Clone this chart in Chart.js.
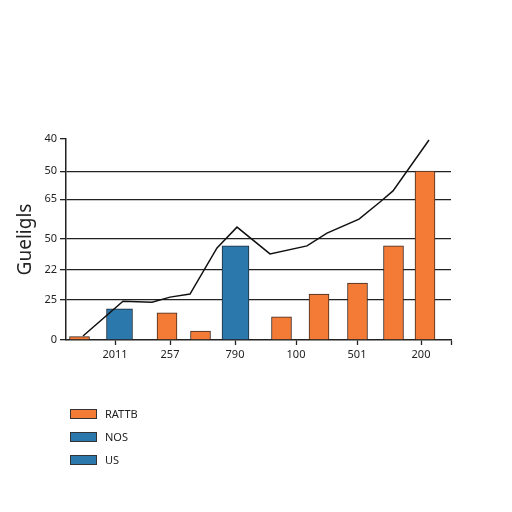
<!DOCTYPE html>
<html>
<head>
<meta charset="utf-8">
<script src="https://cdn.jsdelivr.net/npm/chart.js@4"></script>
<style>
  html, body { margin: 0; padding: 0; background: #fff; }
  #wrap { position: relative; width: 512px; height: 512px; }
  #legend { position: absolute; left: 70px; top: 402px; font-family: 'Noto Sans', sans-serif; font-size: 11px; color: #222; }
  .item { display: flex; align-items: center; height: 23px; }
  .box { width: 25px; height: 8px; margin-right: 8px; border: 1px solid #333; }
</style>
</head>
<body>
<div id="wrap">
  <canvas id="chart" width="512" height="512"></canvas>
  <div id="legend"></div>
</div>
<script>
// x axis ticks (values in axis units) and their printed labels
const xTickValues = [4.9, 10.4, 16.9, 23.0, 29.1, 35.5, 38.5];
const xTickLabels = ['2011', '257', '790', '100', '501', '200', ''];

// y axis ticks, printed labels as they appear on the picture
const yTickValues = [0, 12.1, 20.9, 30.2, 42.0, 50.4, 60];
const yTickLabels = ['0', '25', '22', '50', '65', '50', '40'];

// bars
const rattbX = [1.35, 10.1, 13.45, 21.55, 25.3, 29.15, 32.75, 35.9];
const rattbValues = [1.0, 8.1, 2.7, 6.9, 13.7, 17.0, 28.1, 50.4];
const nosX = [5.35];
const nosValues = [9.3];
const usX = [16.95];
const usValues = [28.1];

// line
const lineX = [1.7, 5.7, 8.6, 10.4, 12.4, 15.1, 17.1, 20.4, 24.1, 26.1, 29.3, 31.4, 32.7, 36.3];
const lineValues = [1.2, 11.6, 11.3, 12.8, 13.7, 27.5, 33.7, 25.7, 28.1, 31.9, 36.1, 41.2, 44.5, 59.7];

const ORANGE = '#F47B35';
const BLUE = '#2B78AD';
const INK = '#222';

const pts = (xs, ys) => xs.map((x, i) => ({x, y: ys[i]}));

const chart = new Chart(document.getElementById('chart'), {
  type: 'bar',
  data: {
    datasets: [
      {
        type: 'line', label: '', data: pts(lineX, lineValues),
        borderColor: '#111', borderWidth: 1.5, pointRadius: 0, tension: 0,
        fill: false, order: 0, inLegend: false
      },
      {
        label: 'RATTB', data: pts(rattbX, rattbValues), backgroundColor: ORANGE,
        borderColor: '#3a2a22', borderWidth: 1, barThickness: 20, grouped: false, order: 1
      },
      {
        label: 'NOS', data: pts(nosX, nosValues), backgroundColor: BLUE,
        borderColor: '#1e2a35', borderWidth: 1, barThickness: 26, grouped: false, order: 1
      },
      {
        label: 'US', data: pts(usX, usValues), backgroundColor: BLUE,
        borderColor: '#1e2a35', borderWidth: 1, barThickness: 27, grouped: false, order: 1
      }
    ]
  },
  options: {
    responsive: false,
    animation: false,
    layout: { padding: { top: 139, left: 10, right: 61, bottom: 142 } },
    plugins: { legend: { display: false }, tooltip: { enabled: false } },
    scales: {
      x: {
        type: 'linear', min: 0, max: 38.5, offset: false,
        afterBuildTicks: s => { s.ticks = xTickValues.map(v => ({value: v})); },
        afterFit: s => { s.height = 30; },
        ticks: {
          autoSkip: false, maxRotation: 0, padding: 3, color: INK,
          font: { family: 'Noto Sans', size: 11 },
          callback: (v, i) => xTickLabels[i]
        },
        grid: {
          offset: false, drawOnChartArea: false, drawTicks: true,
          tickLength: 5, tickColor: INK, tickWidth: 1.3
        },
        border: { color: INK, width: 1.5 }
      },
      y: {
        type: 'linear', min: 0, max: 60,
        afterBuildTicks: s => { s.ticks = yTickValues.map(v => ({value: v})); },
        afterFit: s => { s.width = 56; },
        ticks: {
          autoSkip: false, padding: 3, color: INK,
          font: { family: 'Noto Sans', size: 11 },
          callback: (v, i) => yTickLabels[i]
        },
        grid: {
          color: c => (c.index === 0 || c.index === yTickValues.length - 1) ? 'rgba(0,0,0,0)' : INK,
          lineWidth: 1.3, tickLength: 6, tickColor: INK, tickWidth: 1.3
        },
        border: { color: INK, width: 1.5 },
        title: {
          display: true, text: 'Gueligls', color: INK,
          font: { family: 'Noto Sans', size: 19 }, padding: { top: 4, bottom: 0 }
        }
      }
    }
  }
});

// legend list under the chart, built from the datasets
const legend = document.getElementById('legend');
chart.data.datasets.filter(d => d.inLegend !== false).forEach(d => {
  const row = document.createElement('div');
  row.className = 'item';
  const box = document.createElement('span');
  box.className = 'box';
  box.style.background = d.backgroundColor;
  const txt = document.createElement('span');
  txt.textContent = d.label;
  row.appendChild(box);
  row.appendChild(txt);
  legend.appendChild(row);
});
</script>
</body>
</html>
